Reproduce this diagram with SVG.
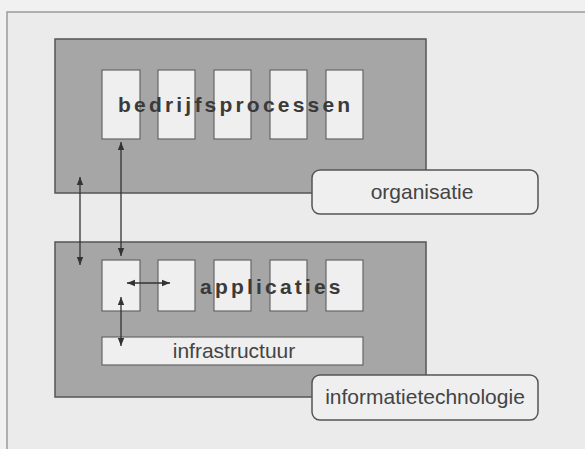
<svg xmlns="http://www.w3.org/2000/svg" width="585" height="449" viewBox="0 0 585 449">
<style>
.dark{fill:#a6a6a6;stroke:#555;stroke-width:1.5}
.cell{fill:#efefef;stroke:#666;stroke-width:1.2}
.label{fill:#efefef;stroke:#555;stroke-width:1.5}
.big{font-family:"Liberation Sans",Arial,sans-serif;font-weight:bold;font-size:21px;fill:#3a3a3a;letter-spacing:3.2px}
.txt{font-family:"Liberation Sans",Arial,sans-serif;font-size:21px;fill:#444}
.conn{stroke:#333;stroke-width:1.3;fill:none;marker-start:url(#ah);marker-end:url(#ah)}
</style>
<defs>
<marker id="ah" viewBox="0 0 10 10" refX="10" refY="5" markerWidth="8" markerHeight="8" markerUnits="userSpaceOnUse" orient="auto-start-reverse">
<path d="M0,1 L10,5 L0,9 Z" fill="#333"/>
</marker>
</defs>
<rect x="0" y="0" width="585" height="449" fill="#f1f1f1"/>
<rect x="7" y="12" width="590" height="450" fill="#ebebeb" stroke="#9a9a9a" stroke-width="1.5"/>
<g id="organisatie-laag">
<rect class="dark" x="55" y="39" width="371" height="154"/>
</g>
<g id="bedrijfsprocessen">
<rect class="cell" x="102" y="70" width="38" height="69"/>
<rect class="cell" x="158" y="70" width="37" height="69"/>
<rect class="cell" x="214" y="70" width="37" height="69"/>
<rect class="cell" x="270" y="70" width="37" height="69"/>
<rect class="cell" x="326" y="70" width="37" height="69"/>
<text class="big" x="118" y="112">bedrijfsprocessen</text>
</g>
<g id="organisatie">
<rect class="label" x="312" y="170" width="226" height="44" rx="8"/>
<text class="txt" x="422" y="199" text-anchor="middle">organisatie</text>
</g>
<g id="it-laag">
<rect class="dark" x="55" y="242" width="371" height="155"/>
</g>
<g id="applicaties">
<rect class="cell" x="102" y="260" width="38" height="51"/>
<rect class="cell" x="158" y="260" width="37" height="51"/>
<rect class="cell" x="214" y="260" width="37" height="51"/>
<rect class="cell" x="270" y="260" width="37" height="51"/>
<rect class="cell" x="326" y="260" width="37" height="51"/>
<text class="big" x="200" y="294">applicaties</text>
</g>
<g id="infrastructuur">
<rect class="cell" x="102" y="337" width="261" height="28"/>
<text class="txt" x="234" y="358" text-anchor="middle">infrastructuur</text>
</g>
<g id="informatietechnologie">
<rect class="label" x="312" y="375" width="226" height="45" rx="8"/>
<text class="txt" x="425" y="404" text-anchor="middle">informatietechnologie</text>
</g>
<g id="connectors">
<line class="conn" x1="80" y1="177" x2="80" y2="265"/>
<line class="conn" x1="121" y1="142" x2="121" y2="256"/>
<line class="conn" x1="127" y1="283" x2="170" y2="283"/>
<line class="conn" x1="121" y1="297" x2="121" y2="346"/>
</g>
</svg>
